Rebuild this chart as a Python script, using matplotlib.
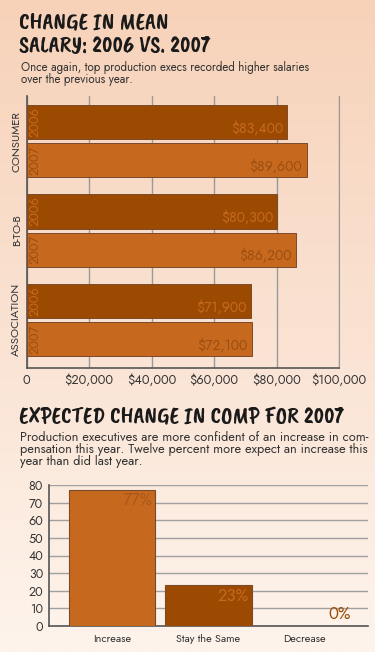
import matplotlib
matplotlib.use("Agg")
import matplotlib.pyplot as plt
import numpy as np
from matplotlib.colors import LinearSegmentedColormap

# ---------------- data ----------------
segments = ["CONSUMER", "B-TO-B", "ASSOCIATION"]
years = ["2006", "2007"]
salary_2006 = [83400, 80300, 71900]
salary_2007 = [89600, 86200, 72100]
salary_ticks = [0, 20000, 40000, 60000, 80000, 100000]
salary_ticklabels = ["0", "$20,000", "$40,000", "$60,000", "$80,000", "$100,000"]

comp_categories = ["Increase", "Stay the Same", "Decrease"]
comp_values = [77, 23, 0]
comp_ticks = [0, 10, 20, 30, 40, 50, 60, 70, 80]

# ---------------- style ----------------
DARK = "#9C4A02"
LIGHT = "#C6691E"
EDGE = "#7a4a2c"
TXT = "#333333"
BODY = ["Jost", "DejaVu Sans"]
TITLE = ["Caveat Brush", "DejaVu Sans"]
TSIZE = 17

W, H = 375, 652
fig = plt.figure(figsize=(W / 100, H / 100), dpi=100)

# background gradient
bg = fig.add_axes([0, 0, 1, 1], zorder=-10)
cmap = LinearSegmentedColormap.from_list("bg", ["#F7D2B9", "#FAE2D2", "#FEF4EC"])
grad = np.linspace(0, 1, 256).reshape(-1, 1)
bg.imshow(grad, aspect="auto", cmap=cmap, extent=[0, 1, 0, 1])
bg.set_axis_off()

def fy(px):
    return 1 - px / H

# ---------------- titles ----------------
fig.text(19 / W, fy(23), "CHANGE IN MEAN", family=TITLE,
         fontsize=TSIZE, color="#1a1a1a", va="center", ha="left")
fig.text(19 / W, fy(46.5), "SALARY: 2006 VS. 2007", family=TITLE,
         fontsize=TSIZE, color="#1a1a1a", va="center", ha="left")
fig.text(21 / W, fy(67), "Once again, top production execs recorded higher salaries",
         family=BODY, fontsize=8.3, color=TXT, va="center", ha="left")
fig.text(21 / W, fy(80), "over the previous year.",
         family=BODY, fontsize=8.3, color=TXT, va="center", ha="left")

fig.text(19 / W, fy(418), "EXPECTED CHANGE IN COMP FOR 2007", family=TITLE,
         fontsize=TSIZE, color="#1a1a1a", va="center", ha="left")
sub2 = ["Production executives are more confident of an increase in com-",
        "pensation this year. Twelve percent more expect an increase this",
        "year than did last year."]
for i, line in enumerate(sub2):
    fig.text(20 / W, fy(437 + 12 * i), line, family=BODY, fontsize=9.2,
             color=TXT, va="center", ha="left")

# ---------------- top chart ----------------
ax1 = fig.add_axes([26.7 / W, fy(368), (339 - 26.7) / W, (368 - 96) / H])
ax1.set_facecolor("none")
group_pitch = 2.62
inner = 0.56
centers = np.arange(len(segments)) * group_pitch
y06 = centers - inner
y07 = centers + inner
ax1.barh(y06, salary_2006, height=1.0, color=DARK, edgecolor=EDGE, linewidth=0.7, zorder=3)
ax1.barh(y07, salary_2007, height=1.0, color=LIGHT, edgecolor=EDGE, linewidth=0.7, zorder=3)
ax1.set_xlim(0, 100000)
ax1.set_ylim(centers[-1] + inner + 0.5 + 0.35, centers[0] - inner - 0.5 - 0.265)
ax1.set_xticks(salary_ticks)
ax1.set_xticklabels(salary_ticklabels, family=BODY, fontsize=9.2, color="#333333")
ax1.set_yticks([])
ax1.tick_params(axis="x", length=0, pad=4)
ax1.grid(axis="x", color="#9a9a9a", linewidth=1.0, zorder=0)
ax1.set_axisbelow(True)
ax1.spines["top"].set_visible(False)
ax1.spines["right"].set_color("#9a9a9a")
ax1.spines["left"].set_color("#555555")
ax1.spines["bottom"].set_color("#555555")
ax1.spines["left"].set_linewidth(1.2)
ax1.spines["bottom"].set_linewidth(1.2)

for yy, vals, col_txt in [(y06, salary_2006, LIGHT), (y07, salary_2007, "#9C4E12")]:
    for y, v in zip(yy, vals):
        ax1.annotate(f"${v:,.0f}", xy=(v, y + 0.5), xytext=(-3, 2),
                     textcoords="offset points", ha="right", va="bottom",
                     family=BODY, fontsize=10.0, color=col_txt, zorder=5)
for yy, yr, col_txt in [(y06, years[0], LIGHT), (y07, years[1], "#9C4E12")]:
    for y in yy:
        ax1.annotate(yr, xy=(0, y), xytext=(6.5, 0), textcoords="offset points",
                     rotation=90, ha="center", va="center", family=BODY,
                     fontsize=9.2, color=col_txt, zorder=5)
for c, name in zip(centers, segments):
    ax1.annotate(name, xy=(0, c), xycoords=("axes fraction", "data"),
                 xytext=(-7, 0), textcoords="offset points", rotation=90,
                 ha="center", va="center", family=BODY, fontsize=8.2, color=TXT)

# ---------------- bottom chart ----------------
ax2 = fig.add_axes([48.7 / W, fy(626), (368 - 48.7) / W, (626 - 485) / H])
ax2.set_facecolor("none")
xpos = np.arange(len(comp_categories))
bar_colors = [LIGHT, DARK, DARK]
ax2.bar(xpos, comp_values, width=0.9, color=bar_colors, edgecolor=EDGE,
        linewidth=0.8, zorder=3)
ax2.set_xlim(-0.66, 2.66)
ax2.set_ylim(0, 80)
ax2.set_yticks(comp_ticks)
ax2.set_yticklabels([str(t) for t in comp_ticks], family=BODY, fontsize=9, color="#333333")
ax2.set_xticks(xpos)
ax2.set_xticklabels(comp_categories, family=BODY, fontsize=7.8, color="#333333")
ax2.tick_params(axis="both", length=0)
ax2.tick_params(axis="y", pad=4)
ax2.tick_params(axis="x", pad=6)
ax2.grid(axis="y", color="#a0a0a0", linewidth=1.0, zorder=0)
ax2.set_axisbelow(True)
ax2.spines["top"].set_visible(False)
ax2.spines["right"].set_visible(False)
ax2.spines["left"].set_color("#555555")
ax2.spines["bottom"].set_color("#555555")
ax2.spines["left"].set_linewidth(1.2)
ax2.spines["bottom"].set_linewidth(1.2)

label_cols = ["#A8581C", LIGHT, DARK]
for x, v, col in zip(xpos, comp_values, label_cols):
    if v > 0:
        ax2.annotate(f"{v}%", xy=(x + 0.45, v), xytext=(-2, -1.5),
                     textcoords="offset points", ha="right", va="top",
                     family=BODY, fontsize=12, color=col, zorder=5)
    else:
        ax2.annotate(f"{v}%", xy=(x + 0.45, v), xytext=(2, 2),
                     textcoords="offset points", ha="right", va="bottom",
                     family=BODY, fontsize=12, color=col, zorder=5)

fig.savefig("out.png", dpi=100)
